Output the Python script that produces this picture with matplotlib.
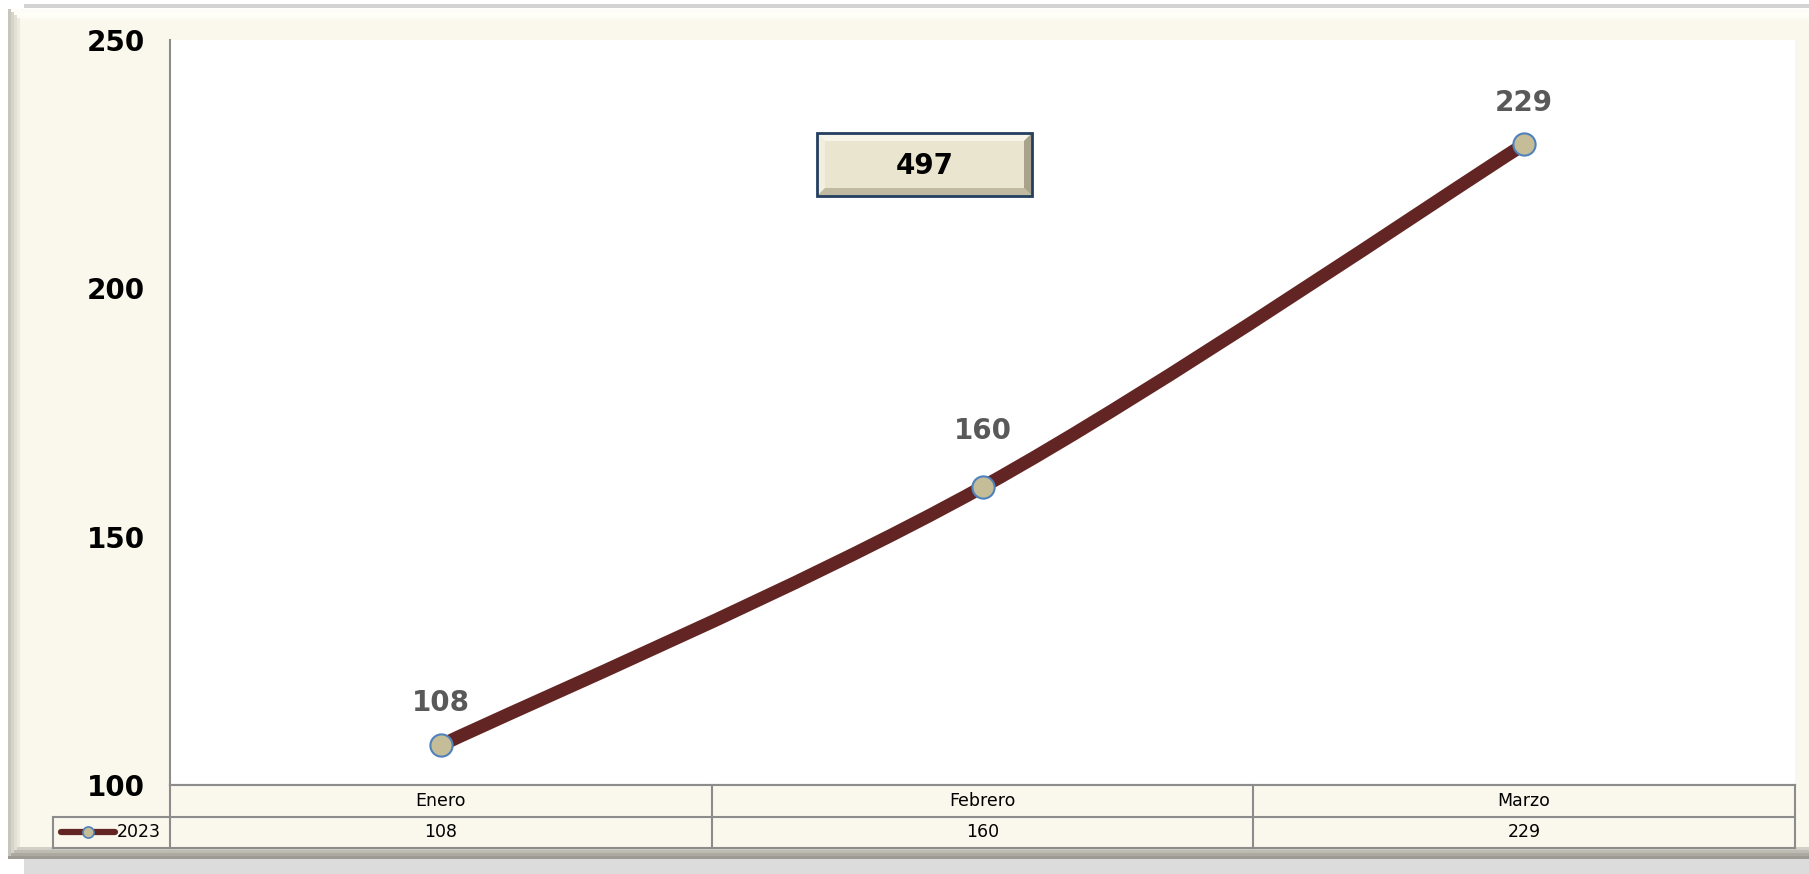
import numpy as np
import matplotlib
matplotlib.use("Agg")
import matplotlib.pyplot as plt
from matplotlib.path import Path
from matplotlib.patches import PathPatch, Rectangle, Polygon

categories = ["Enero", "Febrero", "Marzo"]
series_name = "2023"
values = [108, 160, 229]
total_label = "497"
y_ticks = [100, 150, 200, 250]

W, H = 1809, 874
DPI = 100
fig = plt.figure(figsize=(W / DPI, H / DPI), dpi=DPI)
fig.patch.set_facecolor("white")

def fr(x0, y0, x1, y1):
    return [x0 / W, 1 - y1 / H, (x1 - x0) / W, (y1 - y0) / H]

CREAM = "#FAF8EC"
FONT = "DejaVu Sans"

# background frame
bg = fig.add_axes([0, 0, 1, 1])
bg.set_xlim(0, W)
bg.set_ylim(H, 0)
bg.axis("off")
bg.add_patch(Rectangle((24, 4), W - 24, 4, color="#D3D3D3", lw=0))
bg.add_patch(Rectangle((24, 858), W - 24, 16, color="#DCDCDC", lw=0))
bg.add_patch(Rectangle((8, 9), W - 8, 850, color=CREAM, lw=0))
for i, c in enumerate(["#FDFCF6", "#FEFDF8", "#FDFCF5", "#FBFAF0"]):
    bg.add_patch(Rectangle((8 + i * 3, 9 + i * 3), W, 3, color=c, lw=0))
for i, c in enumerate(["#C8C6BC", "#D6D4C8", "#E2E0D4", "#ECEADE"]):
    bg.add_patch(Rectangle((8 + i * 3, 9 + i * 3), 3, 850 - i * 6, color=c, lw=0))
for i, c in enumerate(["#9C9A92", "#ACAAA0", "#BEBCB2", "#D2D0C6"]):
    bg.add_patch(Rectangle((8 + i * 3, 856 - i * 3), W, 3, color=c, lw=0))

# main plot axes
PL, PT, PR, PB = 170, 40, 1795, 785
ax = fig.add_axes(fr(PL, PT, PR, PB))
ax.set_facecolor("white")
ax.set_xlim(-0.5, len(categories) - 0.5)
ax.set_ylim(y_ticks[0], y_ticks[-1])
ax.set_yticks(y_ticks)
ax.set_yticklabels([str(t) for t in y_ticks], fontsize=20, fontweight="bold",
                   family=FONT, color="black")
ax.tick_params(axis="y", length=0, pad=18)
ax.set_xticks([])
for s in ["top", "right"]:
    ax.spines[s].set_visible(False)
ax.spines["left"].set_color("#8C8C8C")
ax.spines["left"].set_linewidth(1.5)
ax.spines["bottom"].set_color("#8C8C8C")
ax.spines["bottom"].set_linewidth(1.5)

# smoothed line (Excel-style bezier through data points)
xs = np.arange(len(values), dtype=float)
ys = np.array(values, dtype=float)
pts = np.column_stack([xs, ys])
verts = [pts[0]]
codes = [Path.MOVETO]
n = len(pts)
for i in range(n - 1):
    p0 = pts[i - 1] if i > 0 else pts[i]
    p1 = pts[i]
    p2 = pts[i + 1]
    p3 = pts[i + 2] if i + 2 < n else pts[i + 1]
    c1 = p1 + (p2 - p0) / 6.0
    c2 = p2 - (p3 - p1) / 6.0
    verts += [c1, c2, p2]
    codes += [Path.CURVE4] * 3
LINE = "#632523"
ax.add_patch(PathPatch(Path(verts, codes), fill=False, edgecolor=LINE, lw=9.5,
                       capstyle="round", joinstyle="round", zorder=3))
ax.plot(xs, ys, linestyle="none", marker="o", markersize=16,
        markerfacecolor="#C4BD97", markeredgecolor="#4F81BD", markeredgewidth=1.5,
        zorder=4)
label_offsets = [20, 30, 20]
for x, v, off in zip(xs, ys, label_offsets):
    ax.annotate(str(int(v)), (x, v), xytext=(0, off), textcoords="offset points",
                ha="center", va="bottom", fontsize=20, fontweight="bold",
                family=FONT, color="#595959", zorder=5)

# overlay for the total box
ov = fig.add_axes([0, 0, 1, 1])
ov.set_xlim(0, W)
ov.set_ylim(H, 0)
ov.axis("off")
ov.patch.set_alpha(0)
bx0, by0, bx1, by1 = 817, 133, 1032, 196
b = 8
ov.add_patch(Rectangle((bx0, by0), bx1 - bx0, by1 - by0, facecolor="#EAE5CF",
                       edgecolor="none", zorder=10))
# bevel faces
ov.add_patch(Polygon([(bx0, by0), (bx1, by0), (bx1 - b, by0 + b), (bx0 + b, by0 + b)],
                     closed=True, facecolor="#F7F5EA", edgecolor="none", zorder=11))
ov.add_patch(Polygon([(bx0, by0), (bx0 + b, by0 + b), (bx0 + b, by1 - b), (bx0, by1)],
                     closed=True, facecolor="#F2EFDF", edgecolor="none", zorder=11))
ov.add_patch(Polygon([(bx0, by1), (bx0 + b, by1 - b), (bx1 - b, by1 - b), (bx1, by1)],
                     closed=True, facecolor="#BFBAA0", edgecolor="none", zorder=11))
ov.add_patch(Polygon([(bx1, by0), (bx1, by1), (bx1 - b, by1 - b), (bx1 - b, by0 + b)],
                     closed=True, facecolor="#A8A38A", edgecolor="none", zorder=11))
ov.add_patch(Rectangle((bx0, by0), bx1 - bx0, by1 - by0, facecolor="none",
                       edgecolor="#243F60", lw=2, zorder=12))
ov.text((bx0 + bx1) / 2, (by0 + by1) / 2 + 1, total_label, ha="center", va="center",
        fontsize=20, fontweight="bold", family=FONT, color="black", zorder=13)

# data table
TL, TT, TB = 53, 785, 848
colw = (PR - PL) / len(categories)
leg_units = (PL - TL) / colw
tab = fig.add_axes(fr(TL, TT, PR, TB))
tab.set_xlim(-0.5 - leg_units, len(categories) - 0.5)
tab.set_ylim(2, 0)
tab.axis("off")
tab.add_patch(Rectangle((-0.5, 0), len(categories), 2, facecolor=CREAM, edgecolor="none"))
tab.add_patch(Rectangle((-0.5 - leg_units, 1), leg_units, 1, facecolor=CREAM, edgecolor="none"))
GRID = "#8C8C8C"
lw = 1.5
tab.plot([-0.5, len(categories) - 0.5], [0, 0], color=GRID, lw=lw, clip_on=False)
tab.plot([-0.5 - leg_units, len(categories) - 0.5], [1, 1], color=GRID, lw=lw, clip_on=False)
tab.plot([-0.5 - leg_units, len(categories) - 0.5], [2, 2], color=GRID, lw=lw, clip_on=False)
tab.plot([-0.5 - leg_units, -0.5 - leg_units], [1, 2], color=GRID, lw=lw, clip_on=False)
for k in range(len(categories) + 1):
    tab.plot([k - 0.5, k - 0.5], [0, 2], color=GRID, lw=lw, clip_on=False)
for i, (c, v) in enumerate(zip(categories, values)):
    tab.text(i, 0.5, c, ha="center", va="center", fontsize=12.5, family=FONT, color="black")
    tab.text(i, 1.5, str(v), ha="center", va="center", fontsize=12.5, family=FONT, color="black")
kx0 = -0.5 - leg_units + 8 / colw
kx1 = -0.5 - leg_units + 62 / colw
tab.plot([kx0, kx1], [1.5, 1.5], color=LINE, lw=4.5, solid_capstyle="round")
tab.plot([(kx0 + kx1) / 2], [1.5], marker="o", markersize=8,
         markerfacecolor="#C4BD97", markeredgecolor="#4F81BD", markeredgewidth=1.2)
tab.text(kx1 + 2 / colw, 1.5, series_name, ha="left", va="center", fontsize=12.5,
         family=FONT, color="black")

fig.savefig("out.png", dpi=DPI, facecolor=fig.get_facecolor())
